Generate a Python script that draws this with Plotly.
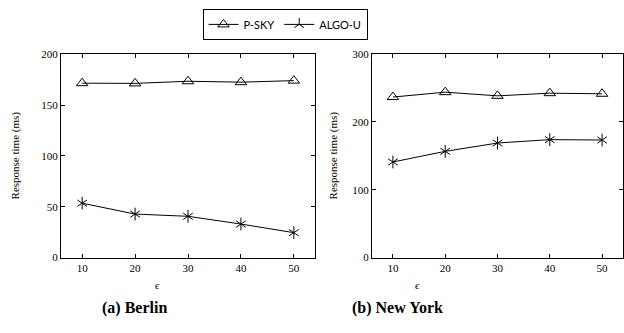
import plotly.graph_objects as go

eps = [10, 20, 30, 40, 50]
berlin_psky = [171.5, 171.3, 173.4, 172.5, 174.0]
berlin_algo = [53.5, 42.8, 40.6, 33.0, 24.5]
ny_psky = [236.8, 244.0, 238.6, 242.5, 241.6]
ny_algo = [141.0, 156.7, 169.0, 174.0, 173.4]
berlin_yticks = [0, 50, 100, 150, 200]
ny_yticks = [0, 100, 200, 300]

W, H = 624, 333
serif = "Liberation Serif"
fig = go.Figure()

def add_panel(xa, ya, psky, algo, show):
    fig.add_trace(go.Scatter(x=eps, y=psky, mode="lines+markers", name="P-SKY",
        xaxis=xa, yaxis=ya, showlegend=show,
        line=dict(color="black", width=1),
        marker=dict(symbol="triangle-up-open", size=10, color="black", line=dict(width=1, color="black"))))
    fig.add_trace(go.Scatter(x=eps, y=algo, mode="lines+markers", name="ALGO-U",
        xaxis=xa, yaxis=ya, showlegend=show,
        line=dict(color="black", width=1),
        marker=dict(symbol="y-up-open", size=8, color="black", line=dict(width=1, color="black"))))
    fig.add_trace(go.Scatter(x=eps, y=algo, mode="markers", name="ALGO-U",
        xaxis=xa, yaxis=ya, showlegend=False, hoverinfo="skip",
        marker=dict(symbol="y-down-open", size=8, color="black", line=dict(width=1, color="black"))))

add_panel("x", "y", berlin_psky, berlin_algo, True)
add_panel("x2", "y2", ny_psky, ny_algo, False)

ydom = [1 - 261 / H, 1 - 50 / H]
axis_common = dict(showline=True, linecolor="black", linewidth=1, mirror="ticks",
                   ticks="inside", ticklen=4, tickwidth=1, tickcolor="black",
                   showgrid=False, zeroline=False,
                   tickfont=dict(family=serif, size=11, color="black"))
fig.update_layout(
    width=W, height=H, margin=dict(l=0, r=0, t=0, b=0),
    paper_bgcolor="white", plot_bgcolor="white",
    xaxis=dict(domain=[61 / W, 315 / W], range=[6, 54], tickvals=eps, anchor="y", **axis_common),
    yaxis=dict(domain=ydom, range=[0, 200], tickvals=berlin_yticks, anchor="x", **axis_common),
    xaxis2=dict(domain=[372 / W, 623 / W], range=[6, 54], tickvals=eps, anchor="y2", **axis_common),
    yaxis2=dict(domain=ydom, range=[0, 300], tickvals=ny_yticks, anchor="x2", **axis_common),
    legend=dict(orientation="h", x=285 / W, xanchor="center", y=1 - 3 / H, yanchor="top",
                bordercolor="black", borderwidth=1, bgcolor="white",
                font=dict(family="Lato", size=11, color="black"),
                itemwidth=30, tracegroupgap=0),
    showlegend=True,
)

def ann(text, x, y, size=11, angle=0):
    fig.add_annotation(text=text, x=x / W, y=1 - y / H, xref="paper", yref="paper",
                       showarrow=False, textangle=angle, xanchor="center", yanchor="middle",
                       font=dict(family=serif, size=size, color="black"))

ann("Response time (ms)", 15, 155, angle=-90)
ann("Response time (ms)", 333, 155, angle=-90)
ann("<i>ϵ</i>", 157, 289)
ann("<i>ϵ</i>", 417, 289)
ann("<b>(a) Berlin</b>", 134, 313, size=16)
ann("<b>(b) New York</b>", 397, 313, size=16)

fig.write_html("out.html")
